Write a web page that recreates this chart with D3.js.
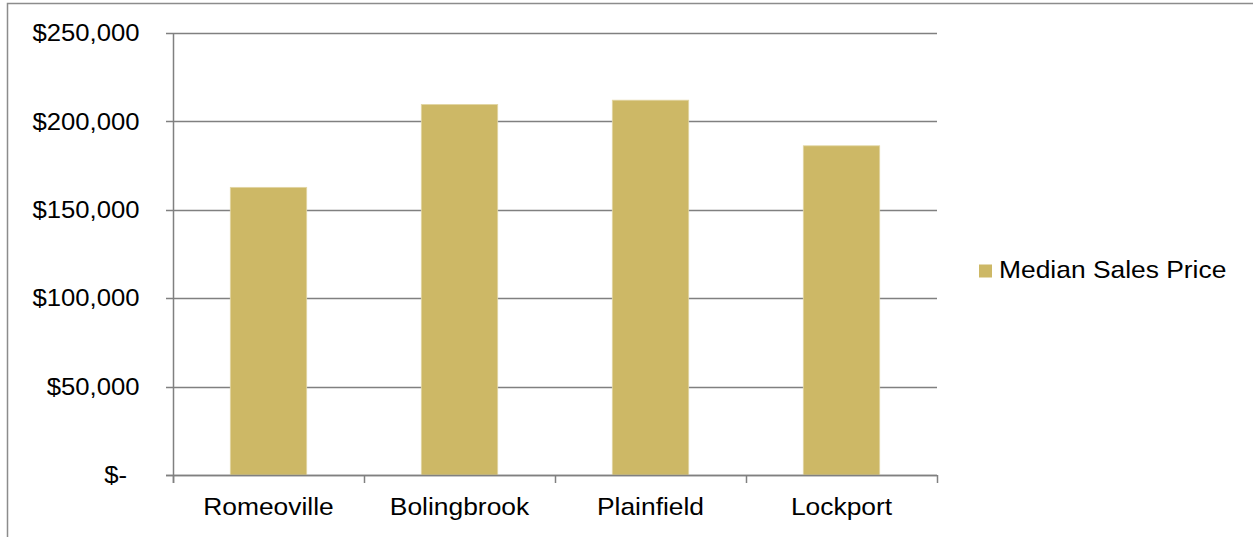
<!DOCTYPE html>
<html>
<head>
<meta charset="utf-8">
<script src="https://cdn.jsdelivr.net/npm/d3@7"></script>
<style>
  html, body { margin: 0; padding: 0; background: #fff; }
  svg { display: block; }
  text { font-family: "Liberation Sans", Arial, sans-serif; fill: #000; }
</style>
</head>
<body>
<svg id="chart" width="1253" height="537"></svg>
<script>
const categories = ["Romeoville", "Bolingbrook", "Plainfield", "Lockport"];
const seriesName = "Median Sales Price";
const values = [162700, 209600, 212000, 186200];
const yTicks = [0, 50000, 100000, 150000, 200000, 250000];

const W = 1253, H = 537;
const plot = { left: 173, right: 937, top: 33, bottom: 475 };
const barColor = "#CDB866";
const gridColor = "#808080";
const fontSize = 24;
const stretch = 1.1;
const yStretch = 1.07;

const svg = d3.select("#chart");

// outer frame
svg.append("rect")
  .attr("x", 7.5).attr("y", 3.5)
  .attr("width", W + 10).attr("height", H + 10)
  .attr("fill", "none").attr("stroke", "#8c8c8c").attr("stroke-width", 1.5);

const x = d3.scaleBand().domain(categories)
  .range([plot.left, plot.right]).paddingInner(0.6).paddingOuter(0.3);
const y = d3.scaleLinear().domain([0, 250000]).range([plot.bottom, plot.top]);

const fmt = v => v === 0 ? "$-" : "$" + d3.format(",")(v);

// gridlines (with left tick marks)
svg.append("g").selectAll("line").data(yTicks).join("line")
  .attr("x1", plot.left - 7).attr("x2", plot.right)
  .attr("y1", d => Math.round(y(d)) + 0.5).attr("y2", d => Math.round(y(d)) + 0.5)
  .attr("stroke", gridColor).attr("stroke-width", 1.5);

// y axis line
svg.append("line")
  .attr("x1", plot.left + 0.5).attr("x2", plot.left + 0.5)
  .attr("y1", plot.top).attr("y2", plot.bottom + 8)
  .attr("stroke", gridColor).attr("stroke-width", 1.5);

// x tick marks at band boundaries
const bounds = categories.map(c => x(c) - x.step() * 0.3).concat([plot.right]);
svg.append("g").selectAll("line").data(bounds).join("line")
  .attr("x1", d => Math.round(d) + 0.5).attr("x2", d => Math.round(d) + 0.5)
  .attr("y1", plot.bottom).attr("y2", plot.bottom + 8)
  .attr("stroke", gridColor).attr("stroke-width", 1.5);

// bars
svg.append("g").selectAll("rect").data(values).join("rect")
  .attr("x", (d, i) => x(categories[i]))
  .attr("width", x.bandwidth())
  .attr("y", d => y(d))
  .attr("height", d => y(0) - y(d))
  .attr("fill", barColor)
  .attr("stroke", "#e2d6a4").attr("stroke-width", 0.8);

// redraw baseline over bars
svg.append("line")
  .attr("x1", plot.left - 7).attr("x2", plot.right)
  .attr("y1", Math.round(y(0)) + 0.5).attr("y2", Math.round(y(0)) + 0.5)
  .attr("stroke", gridColor).attr("stroke-width", 1.5);

// y labels
svg.append("g").selectAll("text").data(yTicks).join("text")
  .attr("transform", d => `translate(${d === 0 ? 127 : 139.5},${y(d)}) scale(${yStretch},1)`)
  .attr("text-anchor", "end")
  .attr("dominant-baseline", "central")
  .style("font-size", fontSize + "px")
  .text(fmt);

// x labels
svg.append("g").selectAll("text").data(categories).join("text")
  .attr("transform", d => `translate(${x(d) + x.bandwidth() / 2},515) scale(${stretch},1)`)
  .attr("text-anchor", "middle")
  .style("font-size", fontSize + "px")
  .text(d => d);

// legend
const lg = svg.append("g");
lg.append("rect").attr("x", 979).attr("y", 264.5).attr("width", 13).attr("height", 13)
  .attr("fill", barColor);
lg.append("text")
  .attr("transform", `translate(999,278) scale(${stretch},1)`)
  .style("font-size", fontSize + "px")
  .text(seriesName);
</script>
</body>
</html>
